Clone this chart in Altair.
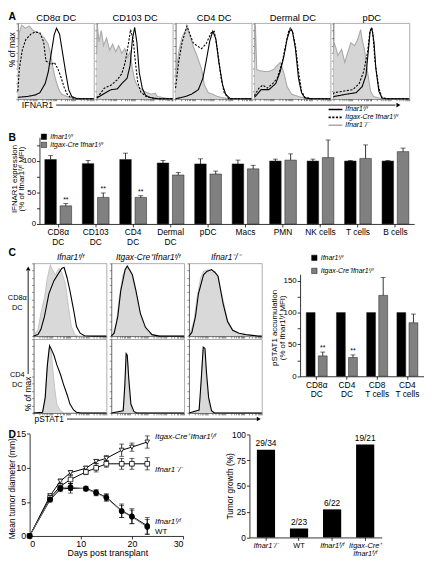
import math
import altair as alt
import pandas as pd

FONT = "Liberation Sans"
W, H = 423, 553

FL = "Ifnar1ᶠ/ᶠ"
CRE = "Itgax-Cre⁺Ifnar1ᶠ/ᶠ"
KO = "Ifnar1⁻/⁻"

# ---------------- Panel A: IFNAR1 histograms (x: % of axis width, y: % of max) ----------
A_titles = ["CD8α DC", "CD103 DC", "CD4 DC", "Dermal DC", "pDC"]
A_cd8_ko = [(0,40),(2,88),(5,97),(10,93),(15,96),(20,90),(25,88),(30,85),(35,80),(40,72),(43,60),(46,42),(49,28),(52,18),(55,10),(58,6),(62,4),(68,2),(75,1),(85,0),(100,0)]
A_cd8_cre = [(0,10),(2,40),(6,65),(10.5,78),(17,85),(23,88),(29,87),(34,75),(37,50),(40,48),(44,45),(48,48),(52.5,40),(57,28),(61,15),(65,6),(69,2),(76,0),(100,0)]
A_cd8_fl = [(0,2),(12.6,3),(23,5),(29,8),(36,20),(40,35),(44,60),(48,85),(51,93),(55,85),(59,60),(63,35),(67,12),(71,3),(78,0),(100,0)]
A_cd103_ko = [(0,60),(1,96),(3,75),(6,90),(9,70),(13,80),(17,64),(21,72),(25,62),(29,70),(33,60),(37,66),(41,55),(44,62),(47,40),(50,25),(53,18),(57,14),(62,10),(67,8),(72,6),(77,7),(80,3),(85,2),(90,1),(95,0),(100,0)]
A_cd103_cre = [(0,2),(2,3),(10,14),(19,18),(27,25),(33,33),(37.5,48),(42,74),(44.6,91),(48,78),(51,48),(54,22),(58,9),(65,3),(73,1),(85,0),(100,0)]
A_cd103_fl = [(0,1),(2,2),(10,7),(19,12),(27,13),(33,20),(40,27),(44,44),(47,78),(50,94),(53,74),(56,35),(60,14),(64,5),(69,2),(80,0),(100,0)]
A_cd4_ko = [(0,27),(4,61),(8.5,81),(15,94),(19,83),(23,70),(28,57),(34,40),(38,18),(43,8),(49,6),(55,3),(64,1),(75,0),(100,0)]
A_cd4_cre = [(0,14),(4,48),(8.5,74),(15,96),(19,85),(23,74),(28,70),(34,66),(40,72),(47,87),(51,89),(55,66),(60,27),(64,8),(70,0),(100,0)]
A_cd4_fl = [(0,0),(13,3),(21,6),(30,12),(36,27),(40,48),(45,76),(49,89),(53,79),(57,48),(62,18),(66,6),(72,0),(100,0)]
A_derm_ko = [(0,48),(1.3,96),(3,39),(6.4,37),(13,36),(19,36),(26,39),(30,44),(34,48),(39,33),(43,16),(49,6),(58,3),(66.5,1),(75,0),(100,0)]
A_derm_cre = [(0,4),(1,6),(6,14),(11,18),(17,14),(24,20),(30,27),(36.5,48),(41,70),(45,89),(47.6,94),(50,89),(54,70),(58,36),(62,10),(66.5,2),(75,0),(100,0)]
A_derm_fl = [(0,2),(1,3),(8.6,12),(19,12),(28,20),(34,36),(39,57),(43,79),(47,91),(50,89),(54,66),(58,27),(62,8),(66.5,1),(75,0),(100,0)]
A_pdc_ko = [(0,60),(1,74),(4,65),(6,57),(11,65),(15,48),(19,61),(23,74),(28,70),(32,78),(36,91),(38,78),(41,65),(45,36),(49,10),(53,3),(60,1),(70,0),(100,0)]
A_pdc_cre = [(0,6),(1,8),(13,10),(25.5,12),(34,20),(40,36),(45,61),(48,87),(50,94),(52,87),(55,48),(60,14),(64,2),(70,0),(100,0)]
A_pdc_fl = [(0,2),(1,3),(17,6),(30,8),(38,16),(43,31),(45.5,57),(48.5,89),(51,92),(53.6,74),(56,40),(60,10),(64,1),(70,0),(100,0)]
A_curves = [(A_cd8_ko, A_cd8_cre, A_cd8_fl), (A_cd103_ko, A_cd103_cre, A_cd103_fl),
            (A_cd4_ko, A_cd4_cre, A_cd4_fl), (A_derm_ko, A_derm_cre, A_derm_fl),
            (A_pdc_ko, A_pdc_cre, A_pdc_fl)]

# ---------------- Panel B: IFNAR1 expression (% of Ifnar1 f/f MFI) ----------
B_cats = ["CD8α|DC", "CD103|DC", "CD4|DC", "Dermal|DC", "pDC", "Macs", "PMN", "NK cells", "T cells", "B cells"]
B_fl_mean = [102, 95.4, 102, 96.4, 94.9, 94.9, 99.5, 99.5, 99.5, 99.5]
B_fl_sem = [6, 5.1, 10, 4.1, 8.1, 6.1, 3.1, 3.1, 1, 1]
B_cre_mean = [28.7, 42, 42, 77.4, 79, 87.2, 101, 105, 103.6, 114.4]
B_cre_sem = [3.6, 7, 2.6, 4.1, 4.6, 5.6, 9.8, 27.8, 21.4, 5.6]
B_sig = ["**", "**", "**", "", "", "", "", "", "", ""]

# ---------------- Panel C: pSTAT1 histograms + accumulation ----------
C_col_titles = [FL, CRE, KO]
C_cd8_fl_ctrl = [(0,0),(1.3,2),(6,9),(10,31),(15,53),(19,80),(23,98),(26,91),(30,84),(35,93),(39,87),(44,71),(48,40),(52,13),(57,2),(61,0),(100,0)]
C_cd8_fl_ifn = [(0,0),(6,2),(10,9),(15,27),(21,58),(28,76),(35,87),(39,93),(42,94),(46,80),(50,62),(55,36),(59,13),(64,4),(70,0.5),(80,0),(100,0)]
C_cd8_cre_ctrl = [(0,0),(2,2),(7,18),(11,53),(16,84),(20,93),(24,93),(27,89),(31,71),(38,40),(44,16),(51,4),(60,1),(70,0),(100,0)]
C_cd8_cre_ifn = [(0,0),(4,4),(9,27),(13,62),(19,91),(22,96),(25,91),(29,84),(34,62),(40,31),(47,12),(56,2),(66,0),(100,0)]
C_cd8_ko_ctrl = [(0,0),(2,4),(7,22),(11,53),(16,80),(20,89),(27,91),(31,87),(36,89),(40,80),(47,49),(53,22),(60,9),(69,2),(78,0),(100,0)]
C_cd8_ko_ifn = [(0,0),(4,5),(9,27),(13,58),(20,84),(25,89),(31,91),(36,87),(40,82),(47,44),(53,20),(60,8),(69,4),(78,2),(87,1),(95,0),(100,0)]
C_cd4_fl_ctrl = [(0,0),(12.4,1),(15.6,17),(18,56),(21,87),(23.6,87),(26,65),(29,34),(32,12),(37,3),(42,0),(100,0)]
C_cd4_fl_ifn = [(0,0),(12.4,1),(16,21),(19,65),(22,91),(24,87),(28,78),(32,65),(37,52),(41,39),(46,25),(50,12),(55,4),(59,1),(65,0),(100,0)]
C_cd4_cre_ctrl = [(0,0),(15.6,1),(18,17),(20,65),(21,82),(23,65),(25,25),(28,4),(31,0),(100,0)]
C_cd4_cre_ifn = [(0,0),(16.4,3),(18.7,39),(20.4,80),(22,78),(24,47),(27,12),(31,2),(35,0),(100,0)]
C_cd4_ko_ctrl = [(0,0),(13,1),(15.6,21),(18,65),(20,87),(22,82),(24,47),(27.6,12),(31,1),(35,0),(100,0)]
C_cd4_ko_ifn = [(0,0),(14,4),(17,47),(19.6,89),(22,87),(24,56),(27,21),(31,3),(35,0),(100,0)]
C_curves = [[(C_cd8_fl_ctrl, C_cd8_fl_ifn), (C_cd8_cre_ctrl, C_cd8_cre_ifn), (C_cd8_ko_ctrl, C_cd8_ko_ifn)],
            [(C_cd4_fl_ctrl, C_cd4_fl_ifn), (C_cd4_cre_ctrl, C_cd4_cre_ifn), (C_cd4_ko_ctrl, C_cd4_ko_ifn)]]
C_cats = ["CD8α|DC", "CD4|DC", "CD8|T cells", "CD4|T cells"]
C_fl_mean = [100, 100, 100, 100]
C_fl_sem = [0, 0, 0, 0]
C_cre_mean = [32, 29.5, 127, 84]
C_cre_sem = [6, 4, 28, 13.6]
C_sig = ["**", "**", "", ""]

# ---------------- Panel D: tumour growth ----------
D_days = [0, 4, 6, 8, 11, 13, 15, 18, 20, 23]
D_series = [CRE, KO, FL, "WT"]
D_cre_mean = [0, 5.9, 8.05, 9.3, 9.95, 10.95, 11.4, 12.6, 13.05, 13.8]
D_cre_sem = [0, 0.3, 0.3, 0.3, 0.3, 0.3, 0.4, 0.9, 0.6, 0.9]
D_ko_mean = [0, 5.6, 7.3, 8.3, 9.4, 10.0, 10.6, 10.6, 10.6, 10.6]
D_ko_sem = [0, 0.3, 0.4, 0.6, 0.4, 0.6, 0.5, 0.8, 0.8, 0.9]
D_fl_mean = [0, 5.3, 6.9, 7.0, 7.0, 6.4, 5.7, 3.7, 2.9, 1.5]
D_fl_sem = [0, 0.3, 0.4, 0.7, 0.3, 0.4, 0.5, 1.0, 1.1, 1.2]
D_wt_mean = [0, 5.4, 7.1, 7.2, 6.9, 6.3, 5.6, 3.6, 2.8, 1.3]
D_wt_sem = [0, 0.3, 0.4, 0.5, 0.3, 0.4, 0.5, 0.9, 1.0, 1.1]
D_groups = [KO, "WT", FL, "Itgax-Cre⁺|" + FL]
D_pct = [85.3, 8.7, 27.3, 90.5]
D_frac = ["29/34", "2/23", "6/22", "19/21"]


# ---------------- layout helpers ----------
def X(p):
    return round(p - 8, 2)


def Y(r):
    return round(r + 8.5 - 6 * (r - 10) / 546 - 8, 2)


A_BOX_X = [(18, 95.2), (98.2, 175.4), (178.4, 255.6), (258.6, 335.8), (338.8, 416)]
A_BOX_Y = (10, 88)
C_BOX_X = [(34, 108), (113, 187), (192, 266)]
C_BOX_Y = [(257, 332), (335, 411)]
HIST_XT = [round(25 * (d + math.log10(k)), 2) for d in range(4) for k in range(1, 10)] + [100]
HIST_YT = list(range(0, 101, 10))
ONE = alt.Data(values=[{"k": 0}])


def pts(curve, **extra):
    return [dict(x=a, y=b, **extra) for a, b in curve]


def hist_scales(x0, x1, top, bot):
    xs = alt.Scale(domain=[0, 100], range=[X(x0), X(x1)], nice=False, zero=False)
    ys = alt.Scale(domain=[0, 100], range=[Y(bot), Y(top)], nice=False, zero=False)
    return xs, ys


def frame_axes(x0, x1, top, bot, title, style, size, pad):
    ax_b = alt.Axis(orient="bottom", offset=Y(bot) - H, values=HIST_XT, labels=False, tickSize=2,
                    tickWidth=0.6, title=None, domainColor="#444", tickColor="#444", minExtent=0)
    ax_l = alt.Axis(orient="left", offset=-X(x0), values=HIST_YT, labels=False, tickSize=2,
                    tickWidth=0.6, title=None, domainColor="#444", tickColor="#444", minExtent=0)
    if title:
        ax_t = alt.Axis(orient="top", offset=-Y(top), ticks=False, labels=False, domainColor="#999",
                        title=title, titlePadding=pad, titleFontSize=size, titleFontStyle=style,
                        titleFontWeight="normal", minExtent=0)
    else:
        ax_t = alt.Axis(orient="top", offset=-Y(top), ticks=False, labels=False, domainColor="#999",
                        title=None, minExtent=0)
    ax_r = alt.Axis(orient="right", offset=X(x1) - W, ticks=False, labels=False, title=None,
                    domainColor="#999", minExtent=0)
    return ax_b, ax_l, ax_t, ax_r


A_COLOR = alt.Scale(domain=[FL, CRE, KO], range=["#000000", "#000000", "#a9a9a9"])
A_DASH = alt.Scale(domain=[FL, CRE, KO], range=[[1, 0], [2.2, 1.5], [1, 0]])
A_LEG = alt.Legend(orient="none", legendX=X(333), legendY=Y(95.5), title=None, symbolType="stroke",
                   symbolSize=196, symbolStrokeWidth=1.6, labelFontSize=7, labelFontStyle="italic",
                   clipHeight=7, rowPadding=0, labelOffset=2, padding=0, labelLimit=200)


def a_panel(i):
    ko, cre, fl = A_curves[i]
    x0, x1 = A_BOX_X[i]
    top, bot = A_BOX_Y
    xs, ys = hist_scales(x0, x1, top, bot)
    ax_b, ax_l, ax_t, ax_r = frame_axes(x0, x1, top, bot, A_titles[i], "normal", 9.5, 0)
    area = alt.Chart(pd.DataFrame(pts(ko))).mark_area(color="#d5d5d5").encode(
        x=alt.X("x:Q", scale=xs, axis=ax_b), y=alt.Y("y:Q", scale=ys, axis=ax_l))
    df = pd.DataFrame(pts(ko, geno=KO) + pts(cre, geno=CRE) + pts(fl, geno=FL))
    lines = alt.Chart(df).mark_line(strokeWidth=1.1).encode(
        x=alt.X("x:Q", scale=xs, axis=ax_t), y=alt.Y("y:Q", scale=ys, axis=ax_r),
        color=alt.Color("geno:N", scale=A_COLOR, legend=A_LEG),
        strokeDash=alt.StrokeDash("geno:N", scale=A_DASH, legend=A_LEG))
    return alt.layer(area, lines).resolve_axis(x="independent", y="independent")


def c_panel(r, c):
    ctrl, ifn = C_curves[r][c]
    x0, x1 = C_BOX_X[c]
    top, bot = C_BOX_Y[r]
    title = C_col_titles[c] if r == 0 else None
    xs, ys = hist_scales(x0, x1, top, bot)
    ax_b, ax_l, ax_t, ax_r = frame_axes(x0, x1, top, bot, title, "italic", 8.5, 2)
    cdf = pd.DataFrame(pts(ctrl))
    area = alt.Chart(cdf).mark_area(color="#d9d9d9").encode(
        x=alt.X("x:Q", scale=xs, axis=ax_b), y=alt.Y("y:Q", scale=ys, axis=ax_l))
    edge = alt.Chart(cdf).mark_line(color="#b5b5b5", strokeWidth=0.7).encode(
        x=alt.X("x:Q", scale=xs, axis=None), y=alt.Y("y:Q", scale=ys, axis=None))
    line = alt.Chart(pd.DataFrame(pts(ifn))).mark_line(color="black", strokeWidth=1.1).encode(
        x=alt.X("x:Q", scale=xs, axis=ax_t), y=alt.Y("y:Q", scale=ys, axis=ax_r))
    return alt.layer(area, edge, line).resolve_axis(x="independent", y="independent")


def bar_panel(cats, fl_mean, fl_sem, cre_mean, cre_sem, sig, x_rng, x_po, xo_pi, xo_po,
              y_dom, y_rng, y_axis, x_axis, legend):
    rows = []
    for i, cat in enumerate(cats):
        rows.append(dict(cat=cat, geno=FL, mean=fl_mean[i], sem=fl_sem[i], sig=""))
        rows.append(dict(cat=cat, geno=CRE, mean=cre_mean[i], sem=cre_sem[i], sig=sig[i]))
    df = pd.DataFrame(rows)
    xs = alt.Scale(type="band", domain=cats, range=x_rng, paddingInner=0, paddingOuter=x_po)
    xo = alt.Scale(type="band", domain=[FL, CRE], paddingInner=xo_pi, paddingOuter=xo_po)
    ys = alt.Scale(domain=y_dom, range=y_rng, nice=False, zero=False)
    base = alt.Chart(df).transform_calculate(hi="datum.mean + datum.sem")

    def enc(ycol, x_ax=None, y_ax=None):
        return dict(x=alt.X("cat:N", scale=xs, axis=x_ax),
                    xOffset=alt.XOffset("geno:N", scale=xo),
                    y=alt.Y(ycol, scale=ys, axis=y_ax))

    bars = base.mark_bar(stroke="#1a1a1a", strokeWidth=0.5).encode(
        **enc("mean:Q", x_axis, y_axis),
        color=alt.Color("geno:N", scale=alt.Scale(domain=[FL, CRE], range=["#000000", "#808080"]),
                        legend=legend))
    errs = base.transform_filter("datum.sem > 0").mark_rule(color="black", strokeWidth=0.8).encode(
        **enc("mean:Q"), y2="hi:Q")
    caps = base.transform_filter("datum.sem > 0").mark_tick(color="black", size=5, thickness=0.8).encode(
        **enc("hi:Q"))
    stars = base.mark_text(fontSize=7, baseline="bottom", dy=-1, color="black").encode(
        **enc("hi:Q"), text="sig:N")
    return alt.layer(bars, errs, caps, stars).resolve_axis(x="independent", y="independent")


def bar_legend(lx, ly, pad):
    return alt.Legend(orient="none", legendX=X(lx), legendY=Y(ly), title=None, symbolType="square",
                      symbolSize=30, symbolStrokeColor="black", symbolStrokeWidth=0.5,
                      labelFontSize=7, labelFontStyle="italic", clipHeight=8, rowPadding=pad,
                      labelOffset=3, padding=0, labelLimit=200)


def note(text, px, ry, size=9, weight="normal", style="normal", align="left", angle=0, lh=None):
    kw = dict(text=text, fontSize=size, fontWeight=weight, fontStyle=style, align=align,
              baseline="middle", angle=angle, color="black")
    if lh:
        kw["lineHeight"] = lh
    return alt.Chart(ONE).mark_text(**kw).encode(x=alt.value(X(px)), y=alt.value(Y(ry)))


def hline(px0, px1, ry):
    return alt.Chart(ONE).mark_rule(color="black", strokeWidth=0.9).encode(
        x=alt.value(X(px0)), x2=alt.value(X(px1)), y=alt.value(Y(ry)))


def vline(px, ry0, ry1):
    return alt.Chart(ONE).mark_rule(color="black", strokeWidth=0.9).encode(
        x=alt.value(X(px)), y=alt.value(Y(ry0)), y2=alt.value(Y(ry1)))


def head(px, ry, shape):
    return alt.Chart(ONE).mark_point(shape=shape, filled=True, size=22, color="black", opacity=1).encode(
        x=alt.value(X(px)), y=alt.value(Y(ry)))


# ---------------- Panel A ----------
A_group = alt.layer(*[a_panel(i) for i in range(5)]).resolve_scale(x="independent", y="independent")

# ---------------- Panel B ----------
B_yaxis = alt.Axis(orient="left", offset=-X(40), values=[0, 25, 50, 75, 100, 125],
                   labelExpr="datum.value % 50 == 0 ? datum.label : ''", tickSize=3, labelPadding=1,
                   labelFontSize=8, title=["IFNAR1 expression", "(% of " + FL + " MFI)"],
                   titleFontSize=8, titleLineHeight=8, titleX=14.25 - 40, titleY=Y(170),
                   titleBaseline="middle", titleAlign="center", minExtent=0)
B_xaxis = alt.Axis(orient="bottom", offset=Y(216.7) - H, labelExpr="split(datum.label, '|')",
                   labelFontSize=8.5, labelLineHeight=9.5, tickSize=3, labelPadding=1, labelAngle=0,
                   title=None, minExtent=0)
B_group = bar_panel(B_cats, B_fl_mean, B_fl_sem, B_cre_mean, B_cre_sem, B_sig,
                    [X(40), X(421)], 0, 0.242, 0.35, [0, 137], [Y(216.7), Y(127.65)],
                    B_yaxis, B_xaxis, bar_legend(41, 123, 0.3))

# ---------------- Panel C ----------
C_panels = [c_panel(r, c) for r in range(2) for c in range(3)]
C_yaxis = alt.Axis(orient="left", offset=-X(305), values=[0, 25, 50, 75, 100, 125, 150],
                   labelExpr="datum.value % 50 == 0 ? datum.label : ''", tickSize=3, labelPadding=1,
                   labelFontSize=8, title=["pSTAT1 accumulation", "(% of " + FL + " MFI)"],
                   titleFontSize=8, titleLineHeight=8.3, titleX=279 - 305, titleY=Y(323),
                   titleBaseline="middle", titleAlign="center", minExtent=0)
C_xaxis = alt.Axis(orient="bottom", offset=Y(373.3) - H, labelExpr="split(datum.label, '|')",
                   labelFontSize=8.5, labelLineHeight=10, tickSize=3, labelPadding=1, labelAngle=0,
                   title=None, minExtent=0)
C_bars = bar_panel(C_cats, C_fl_mean, C_fl_sem, C_cre_mean, C_cre_sem, C_sig,
                   [X(305), X(431)], 0.05, 0.268, 0.384, [0, 160], [Y(373.3), Y(268.5)],
                   C_yaxis, C_xaxis, bar_legend(316, 247.5, 5.3))

# ---------------- Panel D (growth curves) ----------
D_rows = []
for name, means, sems in zip(D_series, [D_cre_mean, D_ko_mean, D_fl_mean, D_wt_mean],
                             [D_cre_sem, D_ko_sem, D_fl_sem, D_wt_sem]):
    for d, m, s in zip(D_days, means, sems):
        D_rows.append(dict(day=d, s=name, mean=m, sem=s))
d_df = pd.DataFrame(D_rows)
dxs = alt.Scale(domain=[0, 30], range=[X(30), X(186)], nice=False, zero=False)
dys = alt.Scale(domain=[0, 15], range=[Y(537.5), Y(432.5)], nice=False, zero=False)
d_xaxis = alt.Axis(orient="bottom", offset=Y(537.5) - H, values=[0, 10, 20, 30], tickSize=3,
                   labelFontSize=9, labelPadding=1, title="Days post transplant", titleFontSize=9,
                   titleX=X(109), titleY=Y(555) - Y(537.5), titleBaseline="middle", titleAlign="center",
                   minExtent=0)
d_yaxis = alt.Axis(orient="left", offset=-X(30), values=[0, 5, 10, 15], tickSize=3, labelFontSize=9,
                   labelPadding=1, title="Mean tumor diameter (mm)", titleFontSize=8.5,
                   titleX=11.5 - 30, titleY=Y(488.5), titleBaseline="middle", titleAlign="center",
                   minExtent=0)
dbase = alt.Chart(d_df).transform_calculate(lo="datum.mean - datum.sem", hi="datum.mean + datum.sem")
DX = alt.X("day:Q", scale=dxs, axis=None)
d_lines = dbase.mark_line(strokeWidth=1).encode(
    x=alt.X("day:Q", scale=dxs, axis=d_xaxis), y=alt.Y("mean:Q", scale=dys, axis=d_yaxis),
    color=alt.Color("s:N", scale=alt.Scale(domain=D_series, range=["#000000", "#000000", "#000000", "#808080"]),
                    legend=None))
d_err = dbase.transform_filter("datum.sem > 0").mark_rule(color="black", strokeWidth=0.8).encode(
    x=DX, y=alt.Y("lo:Q", scale=dys, axis=None), y2="hi:Q")
d_cap_lo = dbase.transform_filter("datum.sem > 0").mark_tick(
    orient="horizontal", color="black", size=5, thickness=0.8).encode(x=DX, y=alt.Y("lo:Q", scale=dys, axis=None))
d_cap_hi = dbase.transform_filter("datum.sem > 0").mark_tick(
    orient="horizontal", color="black", size=5, thickness=0.8).encode(x=DX, y=alt.Y("hi:Q", scale=dys, axis=None))
d_pts = dbase.mark_point(filled=True, strokeWidth=0.8, opacity=1).encode(
    x=DX, y=alt.Y("mean:Q", scale=dys, axis=None),
    shape=alt.Shape("s:N", scale=alt.Scale(domain=D_series, range=["triangle-down", "square", "circle", "circle"]),
                    legend=None),
    fill=alt.Fill("s:N", scale=alt.Scale(domain=D_series, range=["#ffffff", "#ffffff", "#000000", "#000000"]),
                  legend=None),
    size=alt.Size("s:N", scale=alt.Scale(domain=D_series, range=[22, 24, 10, 10]), legend=None),
    stroke=alt.value("black"))


def d_label(idx, dy, italic=True):
    name = D_series[idx]
    return dbase.transform_filter(alt.datum.s == name).transform_filter(alt.datum.day == D_days[-1]).mark_text(
        text=name, align="left", dx=8, dy=dy, fontSize=8, baseline="middle",
        fontStyle="italic" if italic else "normal", color="black").encode(
        x=DX, y=alt.Y("mean:Q", scale=dys, axis=None))


D_line_group = alt.layer(d_lines, d_err, d_cap_lo, d_cap_hi, d_pts,
                         d_label(0, -5), d_label(1, 6.5), d_label(2, -4), d_label(3, 5.5, italic=False)
                         ).resolve_axis(x="independent", y="independent")

# ---------------- Panel D (tumour growth %) ----------
db_df = pd.DataFrame({"g": D_groups, "pct": D_pct, "lab": D_frac})
dbx = alt.Scale(type="band", domain=D_groups, range=[X(253.5), X(388)], paddingInner=0.45, paddingOuter=0.225)
dby = alt.Scale(domain=[0, 100], range=[Y(539), Y(433.3)], nice=False, zero=False)
db_xaxis = alt.Axis(orient="bottom", offset=Y(539) - H, labelExpr="split(datum.label, '|')",
                    labelFontSize=7.5, labelLineHeight=8.5, tickSize=3, labelPadding=1, labelAngle=0,
                    title=None, minExtent=0,
                    labelFontStyle={"condition": {"test": "datum.value == 'WT'", "value": "normal"},
                                    "value": "italic"})
db_yaxis = alt.Axis(orient="left", offset=-X(253.5), values=[0, 25, 50, 75, 100], tickSize=3,
                    labelFontSize=8.5, labelPadding=1, title="Tumor growth (%)", titleFontSize=8.5,
                    titleX=233.3 - 253.5, titleY=Y(486), titleBaseline="middle", titleAlign="center",
                    minExtent=0)
db_bars = alt.Chart(db_df).mark_bar(color="black").encode(
    x=alt.X("g:N", scale=dbx, axis=db_xaxis), y=alt.Y("pct:Q", scale=dby, axis=db_yaxis))
db_text = alt.Chart(db_df).mark_text(dy=-1.5, baseline="bottom", fontSize=8.5, color="black").encode(
    x=alt.X("g:N", scale=dbx, axis=None), y=alt.Y("pct:Q", scale=dby, axis=None), text="lab:N")
D_bar_group = alt.layer(db_bars, db_text).resolve_axis(x="independent", y="independent")

# ---------------- annotations ----------
notes = [
    note("A", 8.5, 3.8, size=10.5, weight="bold"),
    note("B", 8.5, 128.5, size=10.5, weight="bold"),
    note("C", 8.5, 246.5, size=10.5, weight="bold"),
    note("D", 8.5, 434, size=10.5, weight="bold"),
    note("% of max", 12, 37.5, size=8.5, align="center", angle=270),
    note("IFNAR1", 22, 94.5, size=9),
    hline(57, 402, 94.5),
    head(405, 94.5, "triangle-right"),
    note(["CD8α", "DC"], 17.5, 293.3, size=7.5, align="center", lh=10),
    note(["CD4", "DC"], 17.5, 371.7, size=7.5, align="center", lh=10),
    vline(28.5, 265, 371),
    head(28.5, 262.5, "triangle-up"),
    note("% of max", 28.5, 391.5, size=8.5, align="center", angle=270),
    note("pSTAT1", 35, 417.3, size=8.5),
    hline(68, 261, 417.3),
    head(263, 417.3, "triangle-right"),
]

chart = alt.layer(A_group, B_group, *C_panels, C_bars, D_line_group, D_bar_group, *notes).resolve_scale(
    x="independent", y="independent", color="independent", strokeDash="independent", xOffset="independent"
).properties(
    width=W, height=H, padding=0, autosize=alt.AutoSizeParams(type="none")
).configure(font=FONT).configure_view(stroke=None).configure_axis(
    grid=False, domainColor="black", tickColor="black", labelColor="black", titleColor="black",
    domainWidth=0.8, tickWidth=0.8, labelFont=FONT, titleFont=FONT, titleFontWeight="normal"
).configure_legend(labelFont=FONT, labelColor="black")

chart.save("out.html", embed_options={"renderer": "svg", "actions": False})
